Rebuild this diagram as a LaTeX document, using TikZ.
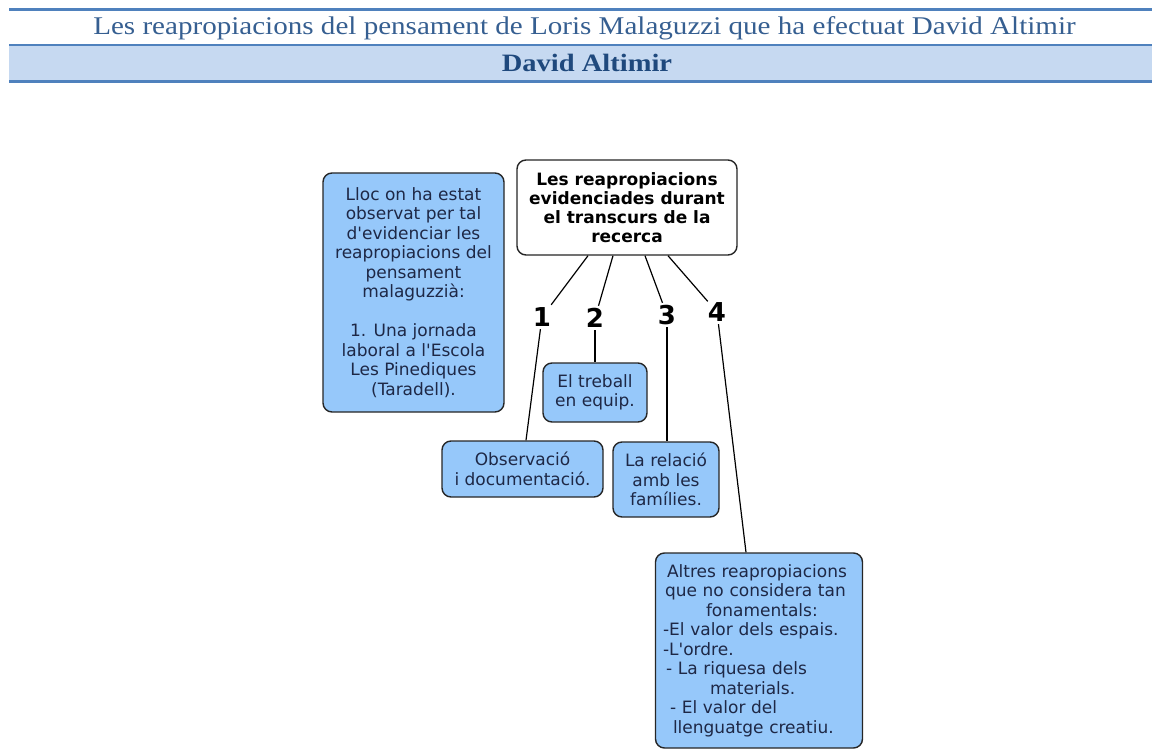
\documentclass[tikz,border=0pt]{standalone}
\usepackage{fontspec}
\setmainfont{Liberation Serif}
\newfontfamily\mapfont{DejaVu Sans}
\definecolor{hdrblue}{RGB}{79,129,189}
\definecolor{hdrband}{RGB}{198,217,241}
\definecolor{titleblue}{RGB}{54,95,145}
\definecolor{namblue}{RGB}{31,73,125}
\definecolor{cmapfill}{RGB}{150,200,250}
\definecolor{cmaptext}{RGB}{30,40,70}

\begin{document}
\begin{tikzpicture}[
  x=1pt, y=-1pt,
  hdrline/.style={draw=hdrblue, line width=2.7pt},
  concept/.style={rectangle, draw=black!85, line width=1.4pt, fill=cmapfill, rounded corners=9pt,
                  inner sep=0pt, align=center, text=cmaptext,
                  font=\mapfont\fontsize{17}{19.5}\selectfont},
  topic/.style={concept, fill=white, text=black,
                font=\mapfont\bfseries\fontsize{17}{19}\selectfont},
  numlabel/.style={rectangle, inner sep=0pt, minimum width=16pt, minimum height=24pt,
                   font=\mapfont\bfseries\fontsize{26}{26}\selectfont},
  link/.style={black, line width=1.2pt}
]
  \useasboundingbox (0,0) rectangle (1152,749);

  % ── Header ─────────────────────────────────────────────────────────────
  \fill[hdrband] (9,46.3) rectangle (1152,80);
  \draw[hdrline] (9,9.3)  -- (1152,9.3);
  \draw[hdrline] (9,45)   -- (1152,45);
  \draw[hdrline] (9,81.3) -- (1152,81.3);
  \node[anchor=base, text=titleblue, inner sep=0pt] (title) at (584.5,35)
    {\scalebox{1.14}[1]{\fontsize{25.5}{30}\selectfont Les reapropiacions del pensament de Loris Malaguzzi que ha efectuat David Altimir}};
  \node[anchor=base, text=namblue, inner sep=0pt] (author) at (587,71.7)
    {\scalebox{1.14}[1]{\fontsize{25}{30}\selectfont\bfseries David Altimir}};

  % ── Concepts ───────────────────────────────────────────────────────────
  \node[concept, minimum width=181pt, minimum height=239pt] (lloc) at (413.5,292.5)
    {Lloc on ha estat\\observat per tal\\d'evidenciar les\\reapropiacions del\\pensament\\malaguzzià:\\[19.5pt]1. Una jornada\\laboral a l'Escola\\Les Pinediques\\(Taradell).};
  \node[topic, minimum width=220pt, minimum height=95pt] (reap) at (627,207.5)
    {Les reapropiacions\\evidenciades durant\\el transcurs de la\\recerca};

  \node[concept, minimum width=104pt, minimum height=59pt] (equip) at (595,392.5)
    {El treball\\en equip.};
  \node[concept, minimum width=161pt, minimum height=56pt] (obs) at (522.5,469)
    {Observació\\i documentació.};
  \node[concept, minimum width=106pt, minimum height=75pt] (fam) at (666,479.5)
    {La relació\\amb les\\famílies.};
  \node[concept, minimum width=207pt, minimum height=195pt, text width=192pt, align=left] (altres) at (759,650.5)
    {\hspace*{4pt}Altres reapropiacions\\
     \hspace*{2pt}que no considera tan\\
     \hspace*{43pt}fonamentals:\\
     -El valor dels espais.\\
     -L'ordre.\\
     \hspace*{3pt}- La riquesa dels\\
     \hspace*{47pt}materials.\\
     \hspace*{7pt}- El valor del\\
     \hspace*{10pt}llenguatge creatiu.};

  % ── Link labels ────────────────────────────────────────────────────────
  \node[numlabel] (n1) at (542,317) {1};
  \node[numlabel] (n2) at (595,318) {2};
  \node[numlabel] (n3) at (667,315) {3};
  \node[numlabel] (n4) at (717,312) {4};

  % ── Links ──────────────────────────────────────────────────────────────
  \draw[link] (reap.south -| 588,0) -- (n1);
  \draw[link] (reap.south -| 613,0) -- (n2);
  \draw[link] (reap.south -| 645,0) -- (n3);
  \draw[link] (reap.south -| 668,0) -- (n4);

  \draw[link] (n1) -- (obs.north -| 526,0);
  \draw[link] (n2) -- (equip.north -| 595,0);
  \draw[link] (n3) -- (fam.north -| 667,0);
  \draw[link] (n4) -- (altres.north -| 746,0);
\end{tikzpicture}
\end{document}
